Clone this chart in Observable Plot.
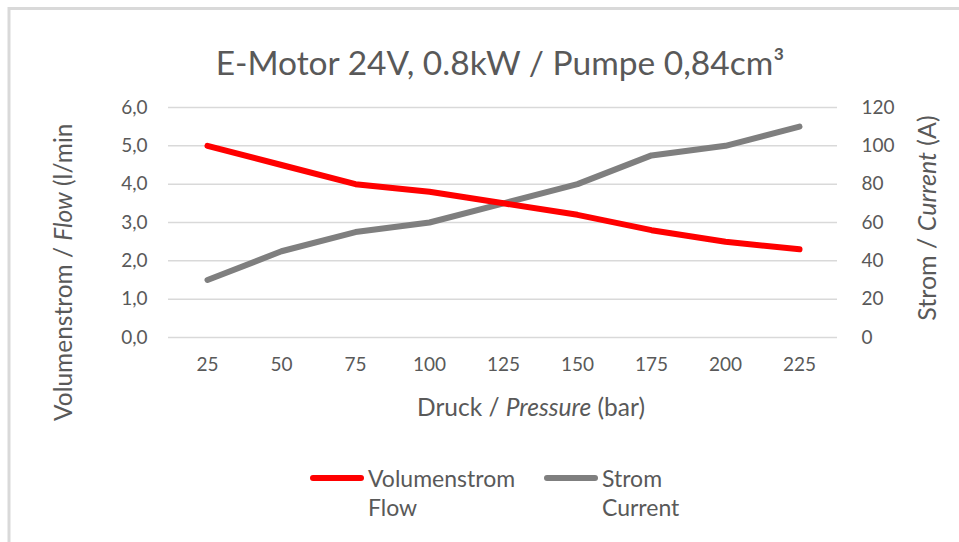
<!DOCTYPE html>
<html>
<head>
<meta charset="utf-8">
<script src="https://cdn.jsdelivr.net/npm/d3@7"></script>
<script src="https://cdn.jsdelivr.net/npm/@observablehq/plot@0.6"></script>
<style>
  html, body { margin: 0; padding: 0; background: #fff; }
  #chart { width: 959px; height: 542px; }
</style>
</head>
<body>
<div id="chart"></div>
<script>
const pressure = [25, 50, 75, 100, 125, 150, 175, 200, 225];
const flow = [5.0, 4.5, 4.0, 3.8, 3.5, 3.2, 2.8, 2.5, 2.3];
const current = [30, 45, 55, 60, 70, 80, 95, 100, 110];
const flowTicks = [0, 1, 2, 3, 4, 5, 6];
const currentTicks = [0, 20, 40, 60, 80, 100, 120];

const FONT = "Lato, 'Open Sans', sans-serif";
const TXT = "#595959";

const rows = pressure.map((p, i) => ({p, flow: flow[i], current: current[i]}));
// current is drawn on the left scale: 120 A <-> 6,0 l/min
const ratio = currentTicks[currentTicks.length - 1] / flowTicks[flowTicks.length - 1];

const svg = Plot.plot({
  width: 959,
  height: 542,
  marginLeft: 168,
  marginRight: 122,
  marginTop: 107,
  marginBottom: 205,
  style: {fontFamily: FONT, color: TXT, background: "#fff", overflow: "visible"},
  x: {type: "point", domain: pressure, padding: 0.5},
  y: {domain: [0, 6]},
  marks: [
    Plot.ruleY(flowTicks, {stroke: "#d9d9d9", strokeWidth: 1.5, strokeOpacity: 1}),
    Plot.axisX({tickSize: 0, tickPadding: 20, fontSize: 19, label: null, fill: TXT}),
    Plot.axisY({anchor: "left", ticks: flowTicks, tickSize: 0, tickPadding: 21, fontSize: 19,
      tickFormat: d => d.toFixed(1).replace(".", ","), label: null, fill: TXT}),
    Plot.axisY({anchor: "right", ticks: flowTicks, tickSize: 0, tickPadding: 24, fontSize: 19,
      tickFormat: d => String(d * ratio), textAnchor: "start", label: null, fill: TXT}),
    Plot.line(rows, {x: "p", y: d => d.current / ratio, stroke: "#7f7f7f", strokeWidth: 6,
      strokeLinejoin: "round", strokeLinecap: "round"}),
    Plot.line(rows, {x: "p", y: "flow", stroke: "#ff0000", strokeWidth: 6,
      strokeLinejoin: "round", strokeLinecap: "round"})
  ]
});

const s = d3.select(svg);
// frame (top and left edges visible)
s.insert("path", ":first-child")
  .attr("d", "M9,542V8.5H959")
  .attr("fill", "none").attr("stroke", "#d9d9d9").attr("stroke-width", 3);

function txt(x, y, parts, opts = {}) {
  const t = s.append("text")
    .attr("x", x).attr("y", y)
    .attr("fill", TXT)
    .attr("font-family", FONT)
    .attr("font-size", opts.size || 20)
    .attr("text-anchor", opts.anchor || "middle")
    .attr("dominant-baseline", "central");
  if (opts.rotate) t.attr("transform", `rotate(${opts.rotate},${x},${y})`);
  for (const [str, it] of parts) {
    const sp = t.append("tspan").text(str);
    if (it) sp.attr("font-style", "italic");
  }
  return t;
}

txt(500, 62, [["E-Motor 24V, 0.8kW / Pumpe 0,84cm³", false]], {size: 33.5});
txt(531, 406, [["Druck / ", false], ["Pressure", true], [" (bar)", false]], {size: 24.5});
txt(62, 421, [["Volumenstrom / ", false], ["Flow", true], [" (l/min", false]], {size: 24.5, anchor: "start", rotate: -90});
txt(926, 218, [["Strom / ", false], ["Current", true], [" (A)", false]], {size: 25, rotate: -90});

// legend
const legend = [
  {color: "#ff0000", x: 313, l1: "Volumenstrom", l2: "Flow"},
  {color: "#7f7f7f", x: 547, l1: "Strom", l2: "Current"}
];
for (const L of legend) {
  s.append("line").attr("x1", L.x).attr("x2", L.x + 48).attr("y1", 478).attr("y2", 478)
    .attr("stroke", L.color).attr("stroke-width", 6).attr("stroke-linecap", "round");
  txt(L.x + 55, 478, [[L.l1, false]], {size: 23, anchor: "start"});
  txt(L.x + 55, 507, [[L.l2, false]], {size: 23, anchor: "start"});
}

document.getElementById("chart").appendChild(svg);
</script>
</body>
</html>
